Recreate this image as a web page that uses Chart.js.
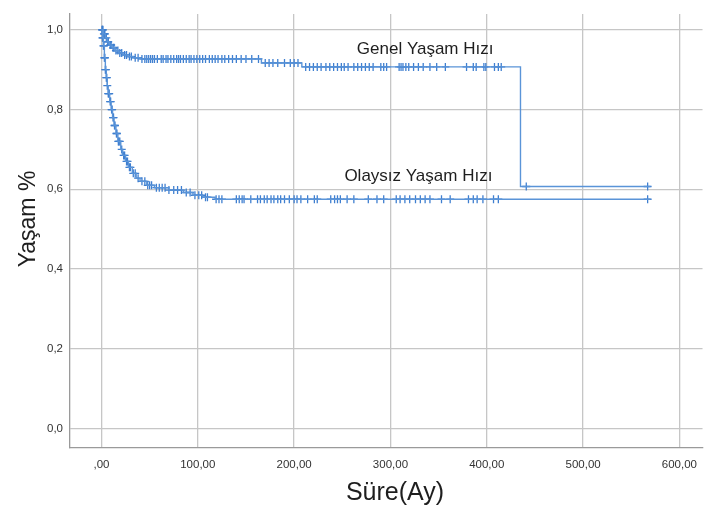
<!DOCTYPE html>
<html>
<head>
<meta charset="utf-8">
<script src="https://cdn.jsdelivr.net/npm/chart.js@4.4.1/dist/chart.umd.min.js"></script>
<style>
  html, body { margin: 0; padding: 0; background: #fff; }
  #wrap { width: 707px; height: 510px; }
</style>
</head>
<body>
<div id="wrap"><canvas id="kmChart" width="707" height="510"></canvas></div>
<script>
// Kaplan-Meier steps: event times (Ay) and survival after each step
var genelTimes = [0, 2, 4, 6, 8, 11, 14, 18, 22, 27, 33, 40, 166, 208, 435, 570];
var genelSurv  = [1.0, 0.99, 0.98, 0.97, 0.962, 0.955, 0.948, 0.942, 0.937, 0.933, 0.93, 0.927, 0.917, 0.907, 0.607, 0.607];

var olayTimes = [0, 1, 2, 3, 4, 5, 6, 7, 8.5, 10, 11.5, 13, 15, 17, 20, 22, 25, 28, 32, 36, 40, 47, 55, 70, 85, 95, 105, 118, 570];
var olaySurv  = [1.0, 0.98, 0.96, 0.93, 0.9, 0.88, 0.86, 0.84, 0.82, 0.8, 0.78, 0.76, 0.74, 0.72, 0.7, 0.685, 0.67, 0.655, 0.64, 0.628, 0.62, 0.61, 0.604, 0.598, 0.592, 0.585, 0.58, 0.575, 0.575];

// censored observations (Ay)
var genelCensored = [1, 1.5, 2.5, 3, 3.5, 5, 6.5, 7, 9, 10, 12, 13, 15, 17, 19, 21, 24, 26, 29, 31, 35, 38,
  42, 45, 47, 49, 51, 53, 55, 58, 62, 64, 67, 69, 72, 75, 78, 80, 82, 85, 88, 91, 93, 96, 99, 102, 105,
  108, 112, 115, 118, 121, 125, 128, 132, 136, 140, 145, 150, 156, 163, 170, 174, 178, 183, 190, 196,
  200, 204, 212, 216, 220, 224, 228, 233, 237, 241, 245, 249, 252, 256, 262, 266, 270, 274, 278, 282,
  290, 293, 296, 309, 311, 313, 316, 319, 324, 329, 334, 341, 348, 357, 379, 386, 389, 397, 399, 408,
  412, 415, 441, 567];

var olayCensored = [0.5, 1, 1.5, 2, 2.5, 3, 3.5, 4, 4.5, 5, 5.5, 6, 7, 7.5, 8, 9, 9.5, 10.5, 11, 12, 12.5,
  13.5, 14, 15.5, 16, 17.5, 18, 19, 21, 23, 24, 26, 27, 29, 30, 33, 35, 38, 42, 45, 48, 50, 52, 57, 60,
  63, 66, 70, 75, 79, 83, 88, 92, 97, 101, 104, 108, 110, 119, 122, 125, 140, 143, 146, 148, 155, 162,
  165, 169, 172, 176, 179, 183, 186, 190, 195, 200, 203, 207, 214, 221, 224, 238, 242, 245, 248, 255,
  262, 277, 286, 293, 306, 310, 315, 320, 326, 331, 336, 341, 353, 362, 381, 386, 390, 396, 407, 412, 567];

var yTicks = [0, 0.2, 0.4, 0.6, 0.8, 1.0];
var xTicks = [0, 100, 200, 300, 400, 500, 600];

var lineColor = "#5a94d8";
var markColor = "#3f7fd0";
var fontFamily = "'Liberation Sans', Arial, sans-serif";

function steps(times, surv) {
  return times.map(function (t, i) { return { x: t, y: surv[i] }; });
}

// survival value in effect at time t
function survAt(times, surv, t) {
  var v = surv[0];
  for (var i = 0; i < times.length; i++) {
    if (times[i] <= t) v = surv[i];
  }
  return v;
}

function marks(cens, times, surv) {
  return cens.map(function (t) { return { x: t, y: survAt(times, surv, t) }; });
}

function fmtComma(v, digits) {
  var s = v.toFixed(digits).replace(".", ",");
  if (v === 0 && digits === 2) s = s.substring(1);
  return s;
}

// curve names on the plot + axis titles
var chartTexts = {
  id: "chartTexts",
  afterDatasetsDraw: function (chart) {
    var ctx = chart.ctx, x = chart.scales.x, y = chart.scales.y;
    ctx.save();
    ctx.fillStyle = "#1e1e1e";
    ctx.textAlign = "center";
    ctx.textBaseline = "middle";
    ctx.font = "17px " + fontFamily;
    ctx.fillText("Genel Yaşam Hızı", x.getPixelForValue(336), y.getPixelForValue(0.95));
    ctx.fillText("Olaysız Yaşam Hızı", x.getPixelForValue(329), y.getPixelForValue(0.633));

    ctx.font = "25px " + fontFamily;
    ctx.fillText("Süre(Ay)", 395, 493);

    ctx.font = "23px " + fontFamily;
    ctx.translate(29, 219);
    ctx.rotate(-Math.PI / 2);
    ctx.fillText("Yaşam %", 0, 0);
    ctx.restore();
  }
};

var ctx = document.getElementById("kmChart");

var kmChart = new Chart(ctx, {
  type: "line",
  data: {
    datasets: [
      {
        label: "Genel Yaşam Hızı",
        data: steps(genelTimes, genelSurv),
        stepped: "before",
        borderColor: lineColor,
        borderWidth: 1.4,
        pointRadius: 0,
        fill: false
      },
      {
        label: "Olaysız Yaşam Hızı",
        data: steps(olayTimes, olaySurv),
        stepped: "before",
        borderColor: lineColor,
        borderWidth: 1.4,
        pointRadius: 0,
        fill: false
      },
      {
        type: "scatter",
        label: "Genel sansürlü",
        data: marks(genelCensored, genelTimes, genelSurv),
        pointStyle: "cross",
        pointRadius: 4,
        pointBorderWidth: 1.3,
        borderColor: markColor,
        showLine: false
      },
      {
        type: "scatter",
        label: "Olaysız sansürlü",
        data: marks(olayCensored, olayTimes, olaySurv),
        pointStyle: "cross",
        pointRadius: 4,
        pointBorderWidth: 1.3,
        borderColor: markColor,
        showLine: false
      }
    ]
  },
  options: {
    responsive: false,
    animation: false,
    layout: { autoPadding: false, padding: { top: 7, right: 0, bottom: 0, left: 0 } },
    plugins: {
      legend: { display: false },
      tooltip: { enabled: false }
    },
    scales: {
      x: {
        type: "linear",
        min: -32.7,
        max: 624,
        afterFit: function (s) { s.height = 62; },
        afterBuildTicks: function (s) { s.ticks = xTicks.map(function (v) { return { value: v }; }); },
        grid: { color: "#c6c6c6", lineWidth: 1.3, drawTicks: false },
        border: { color: "#9a9a9a", width: 1.3 },
        ticks: {
          padding: 10,
          maxRotation: 0,
          autoSkip: false,
          color: "#333",
          font: { family: fontFamily, size: 11.5 },
          callback: function (v) { return fmtComma(v, 2); }
        }
      },
      y: {
        min: -0.049,
        max: 1.04,
        afterFit: function (s) { s.width = 70; },
        afterBuildTicks: function (s) { s.ticks = yTicks.map(function (v) { return { value: v }; }); },
        grid: { color: "#c6c6c6", lineWidth: 1.3, drawTicks: false },
        border: { color: "#9a9a9a", width: 1.3 },
        ticks: {
          padding: 7,
          color: "#333",
          font: { family: fontFamily, size: 11.5 },
          callback: function (v) { return fmtComma(v, 1); }
        }
      }
    }
  },
  plugins: [chartTexts]
});
</script>
</body>
</html>
